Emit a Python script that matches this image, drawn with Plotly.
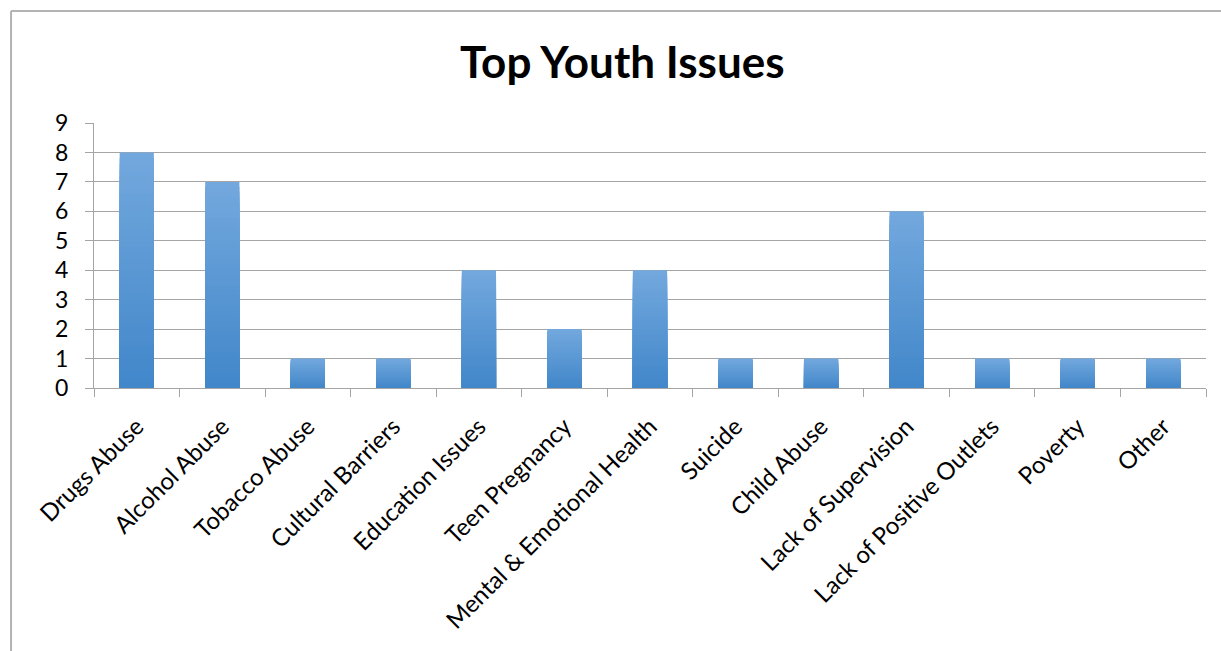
import numpy as np
import plotly.graph_objects as go

# Survey responses: number of mentions per youth issue
issues = [
    "Drugs Abuse", "Alcohol Abuse", "Tobacco Abuse", "Cultural Barriers",
    "Education Issues", "Teen Pregnancy", "Mental & Emotional Health",
    "Suicide", "Child Abuse", "Lack of Supervision",
    "Lack of Positive Outlets", "Poverty", "Other",
]
mentions = [8, 7, 1, 1, 4, 2, 4, 1, 1, 6, 1, 1, 1]
y_ticks = list(range(0, 10))

FONT = "Lato"
GRID = "#a5a5a5"
TOP_RGB = np.array([114, 168, 221])
BOTTOM_RGB = np.array([66, 135, 202])
STEPS = 40

fig = go.Figure()

# Vertical gradient in each bar: overlaid bars of shrinking height,
# each one a little darker, so the lighter tone stays at the top.
vals = np.array(mentions, dtype=float)
for k in range(STEPS):
    t = k / (STEPS - 1)
    r, g, b = (TOP_RGB * (1 - t) + BOTTOM_RGB * t).round().astype(int)
    fig.add_trace(go.Bar(
        x=issues,
        y=vals * (1 - k / STEPS),
        marker=dict(color=f"rgb({r},{g},{b})", line=dict(width=0)),
        hoverinfo="skip" if k else None,
        showlegend=False,
    ))

fig.update_layout(
    width=1221,
    height=651,
    margin=dict(l=94, r=15, t=123, b=263),
    paper_bgcolor="white",
    plot_bgcolor="white",
    barmode="overlay",
    bargap=0.6,
    font=dict(family=FONT, color="black"),
    showlegend=False,
)

fig.update_xaxes(
    type="category",
    tickangle=-45,
    tickfont=dict(family=FONT, size=24, color="black"),
    showgrid=False,
    showline=True,
    linecolor=GRID,
    linewidth=1,
    ticks="outside",
    tickson="boundaries",
    ticklen=8,
    tickcolor=GRID,
    ticklabelstandoff=14,
    zeroline=False,
)

fig.update_yaxes(
    range=[0, 9],
    tickvals=y_ticks,
    ticktext=[str(v) for v in y_ticks],
    tickfont=dict(family=FONT, size=23, color="black"),
    showgrid=True,
    gridcolor=GRID,
    gridwidth=1,
    showline=True,
    linecolor=GRID,
    linewidth=1,
    ticks="outside",
    ticklen=8,
    tickcolor=GRID,
    ticklabelstandoff=12,
    zeroline=False,
)

# Chart title
fig.add_annotation(
    text="<b>Top Youth Issues</b>",
    xref="paper", yref="paper",
    x=0.4757, y=1.235,
    xanchor="center", yanchor="middle",
    showarrow=False,
    font=dict(family=FONT, size=44, color="black"),
)

# Chart frame: left and top edges, running to the page edges
frame = dict(color="#b3b3b3", width=2)
fig.add_shape(type="line", xref="paper", yref="paper",
              x0=-0.0746, x1=1.0135, y0=1.4226, y1=1.4226, line=frame)
fig.add_shape(type="line", xref="paper", yref="paper",
              x0=-0.0746, x1=-0.0746, y0=1.4226, y1=-0.9925, line=frame)

fig.write_html("out.html")
